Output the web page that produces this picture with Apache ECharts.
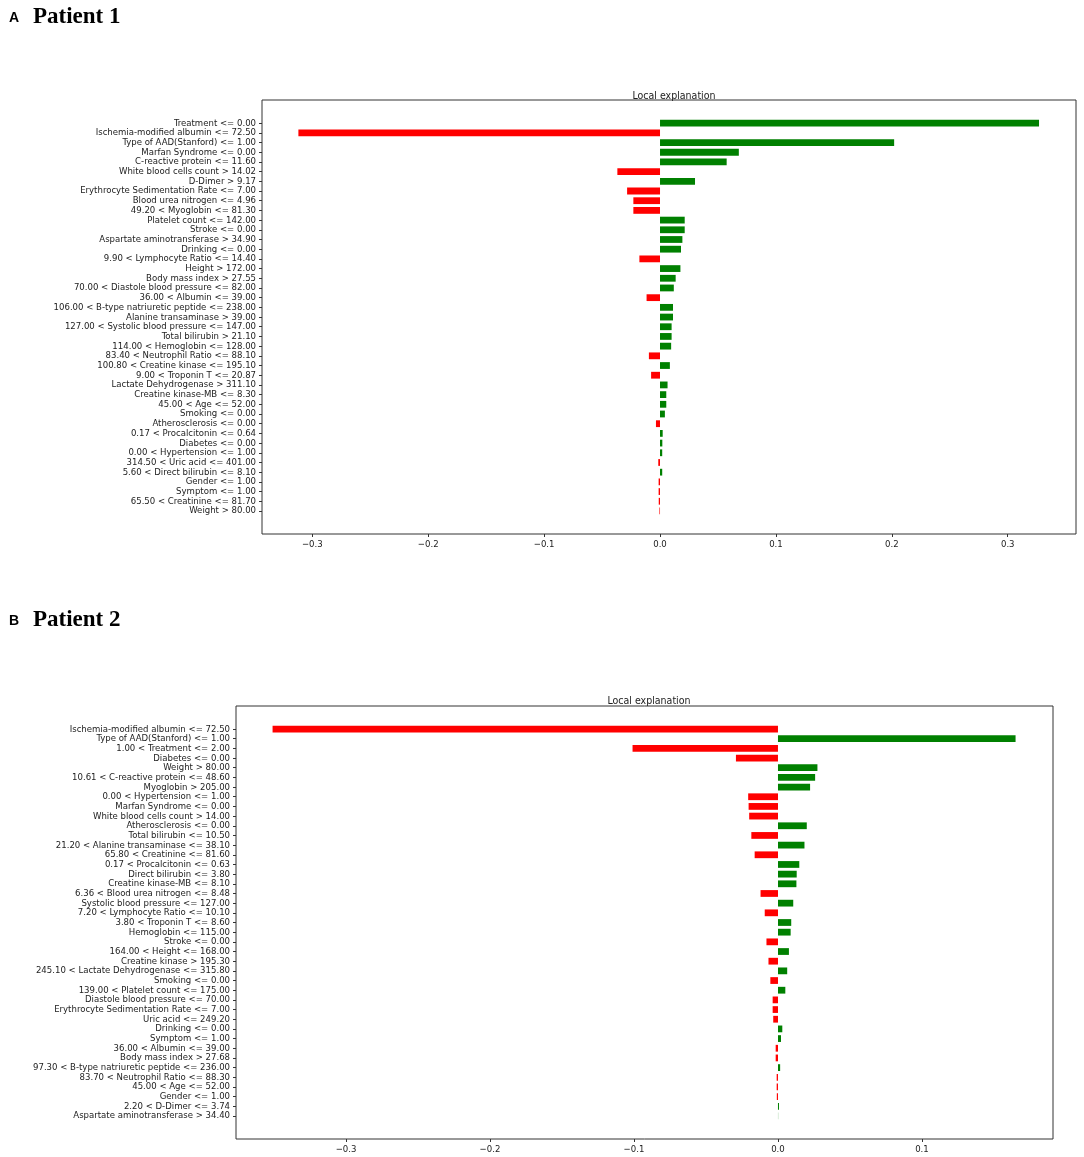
<!DOCTYPE html>
<html>
<head>
<meta charset="utf-8">
<script src="https://cdn.jsdelivr.net/npm/echarts@6/dist/echarts.min.js"></script>
<style>
html, body { margin: 0; padding: 0; background: #fff; }
#chart { width: 1084px; height: 1157px; }
</style>
</head>
<body>
<div id="chart"></div>
<script>
// Patient 1 feature conditions and LIME weights (top to bottom)
const labelsA = [
    'Treatment <= 0.00', 'Ischemia-modified albumin <= 72.50', 'Type of AAD(Stanford) <= 1.00',
    'Marfan Syndrome <= 0.00', 'C-reactive protein <= 11.60', 'White blood cells count > 14.02',
    'D-Dimer > 9.17', 'Erythrocyte Sedimentation Rate <= 7.00', 'Blood urea nitrogen <= 4.96',
    '49.20 < Myoglobin <= 81.30', 'Platelet count <= 142.00', 'Stroke <= 0.00',
    'Aspartate aminotransferase > 34.90', 'Drinking <= 0.00', '9.90 < Lymphocyte Ratio <= 14.40',
    'Height > 172.00', 'Body mass index > 27.55', '70.00 < Diastole blood pressure <= 82.00',
    '36.00 < Albumin <= 39.00', '106.00 < B-type natriuretic peptide <= 238.00', 'Alanine transaminase > 39.00',
    '127.00 < Systolic blood pressure <= 147.00', 'Total bilirubin > 21.10', '114.00 < Hemoglobin <= 128.00',
    '83.40 < Neutrophil Ratio <= 88.10', '100.80 < Creatine kinase <= 195.10', '9.00 < Troponin T <= 20.87',
    'Lactate Dehydrogenase > 311.10', 'Creatine kinase-MB <= 8.30', '45.00 < Age <= 52.00',
    'Smoking <= 0.00', 'Atherosclerosis <= 0.00', '0.17 < Procalcitonin <= 0.64',
    'Diabetes <= 0.00', '0.00 < Hypertension <= 1.00', '314.50 < Uric acid <= 401.00',
    '5.60 < Direct bilirubin <= 8.10', 'Gender <= 1.00', 'Symptom <= 1.00',
    '65.50 < Creatinine <= 81.70', 'Weight > 80.00'
];
const valuesA = [
    0.327, -0.312, 0.202, 0.068, 0.0575, -0.0368, 0.0302, -0.0284, -0.023, -0.023,
    0.0213, 0.0213, 0.0193, 0.0181, -0.0178, 0.0176, 0.0135, 0.0119, -0.0116, 0.0112,
    0.0112, 0.0100, 0.0100, 0.0096, -0.0096, 0.0085, -0.0077, 0.0065, 0.0054, 0.0054,
    0.0042, -0.0035, 0.0023, 0.0020, 0.0019, -0.0015, 0.0019, -0.0012, -0.0012, -0.0011,
    -0.0005
];

// Patient 2
const labelsB = [
    'Ischemia-modified albumin <= 72.50', 'Type of AAD(Stanford) <= 1.00', '1.00 < Treatment <= 2.00',
    'Diabetes <= 0.00', 'Weight > 80.00', '10.61 < C-reactive protein <= 48.60',
    'Myoglobin > 205.00', '0.00 < Hypertension <= 1.00', 'Marfan Syndrome <= 0.00',
    'White blood cells count > 14.00', 'Atherosclerosis <= 0.00', 'Total bilirubin <= 10.50',
    '21.20 < Alanine transaminase <= 38.10', '65.80 < Creatinine <= 81.60', '0.17 < Procalcitonin <= 0.63',
    'Direct bilirubin <= 3.80', 'Creatine kinase-MB <= 8.10', '6.36 < Blood urea nitrogen <= 8.48',
    'Systolic blood pressure <= 127.00', '7.20 < Lymphocyte Ratio <= 10.10', '3.80 < Troponin T <= 8.60',
    'Hemoglobin <= 115.00', 'Stroke <= 0.00', '164.00 < Height <= 168.00',
    'Creatine kinase > 195.30', '245.10 < Lactate Dehydrogenase <= 315.80', 'Smoking <= 0.00',
    '139.00 < Platelet count <= 175.00', 'Diastole blood pressure <= 70.00', 'Erythrocyte Sedimentation Rate <= 7.00',
    'Uric acid <= 249.20', 'Drinking <= 0.00', 'Symptom <= 1.00',
    '36.00 < Albumin <= 39.00', 'Body mass index > 27.68', '97.30 < B-type natriuretic peptide <= 236.00',
    '83.70 < Neutrophil Ratio <= 88.30', '45.00 < Age <= 52.00', 'Gender <= 1.00',
    '2.20 < D-Dimer <= 3.74', 'Aspartate aminotransferase > 34.40'
];
const valuesB = [
    -0.351, 0.165, -0.101, -0.0292, 0.0274, 0.0258, 0.0223, -0.0207, -0.0204, -0.0200,
    0.0200, -0.0185, 0.0184, -0.0162, 0.0148, 0.0130, 0.0128, -0.0121, 0.0106, -0.0092,
    0.0092, 0.0088, -0.0080, 0.0076, -0.0066, 0.0064, -0.0053, 0.0051, -0.0037, -0.0037,
    -0.0033, 0.0030, 0.0021, -0.0016, -0.0016, 0.0015, -0.0009, -0.0009, -0.0008, 0.0007,
    0.0001
];

const ticksA = [-0.3, -0.2, -0.1, 0.0, 0.1, 0.2, 0.3];
const ticksB = [-0.3, -0.2, -0.1, 0.0, 0.1];

const FONT = "'DejaVu Sans Condensed', 'DejaVu Sans', sans-serif";
const fmt = v => (v < 0 ? '\u2212' : '') + Math.abs(v).toFixed(1);
const barColor = p => p.value >= 0 ? '#008000' : '#ff0000';

// one panel = frame grid (border + x ticks) and inner grid (bars + labels)
const panel = (i, frame, inner, range, ticks, labels) => {
    return {
        grids: [
            { left: frame.left, top: frame.top, width: frame.width, height: frame.height,
              show: true, borderColor: '#333', borderWidth: 1, backgroundColor: '#fff' },
            { left: frame.left, top: inner.top, width: frame.width, height: inner.height }
        ],
        xAxes: [
            {
                type: 'value', gridIndex: i * 2, min: range[0], max: range[1],
                axisLine: { show: false },
                axisTick: { show: true, length: 3, customValues: ticks, lineStyle: { color: '#333' } },
                axisLabel: { customValues: ticks, formatter: fmt, fontFamily: FONT, fontSize: 9.5, color: '#222', margin: 6 },
                splitLine: { show: false }
            },
            { type: 'value', gridIndex: i * 2 + 1, min: range[0], max: range[1], show: false }
        ],
        yAxes: [
            { type: 'value', gridIndex: i * 2, show: false },
            {
                type: 'category', gridIndex: i * 2 + 1, data: labels, inverse: true, position: 'left',
                axisLine: { show: false, onZero: false },
                axisTick: { show: true, length: 3, alignWithLabel: true, lineStyle: { color: '#333' } },
                axisLabel: { fontFamily: FONT, fontSize: 9.5, color: '#222', margin: 6, interval: 0 },
                splitLine: { show: false }
            }
        ]
    };
};

const pA = panel(0, { left: 262, top: 100, width: 814, height: 434 }, { top: 118.3, height: 397.5 },
    [-0.3434, 0.3589], ticksA, labelsA);
const pB = panel(1, { left: 236, top: 706, width: 817, height: 433 }, { top: 724.2, height: 396.6 },
    [-0.3764, 0.191], ticksB, labelsB);

const myChart = echarts.init(document.getElementById('chart'));
const option = {
    animation: false,
    backgroundColor: '#fff',
    title: [
        { text: 'A', left: 4, top: 6, textStyle: { fontFamily: 'Liberation Sans', fontWeight: 'bold', fontSize: 14, color: '#000' } },
        { text: 'Patient 1', left: 28, top: 1, textStyle: { fontFamily: 'Liberation Serif', fontWeight: 'bold', fontSize: 23, color: '#000' } },
        { text: 'B', left: 4, top: 609, textStyle: { fontFamily: 'Liberation Sans', fontWeight: 'bold', fontSize: 14, color: '#000' } },
        { text: 'Patient 2', left: 28, top: 604, textStyle: { fontFamily: 'Liberation Serif', fontWeight: 'bold', fontSize: 23, color: '#000' } },
        { text: 'Local explanation', left: 669, top: 86, textAlign: 'center', textStyle: { fontFamily: FONT, fontWeight: 'normal', fontSize: 10.5, color: '#222' } },
        { text: 'Local explanation', left: 644, top: 691, textAlign: 'center', textStyle: { fontFamily: FONT, fontWeight: 'normal', fontSize: 10.5, color: '#222' } }
    ],
    grid: [...pA.grids, ...pB.grids],
    xAxis: [...pA.xAxes, ...pB.xAxes],
    yAxis: [...pA.yAxes, ...pB.yAxes],
    series: [
        {
            name: 'Patient 1', type: 'bar', xAxisIndex: 1, yAxisIndex: 1,
            data: valuesA, barWidth: '70%',
            itemStyle: { color: barColor }
        },
        {
            name: 'Patient 2', type: 'bar', xAxisIndex: 3, yAxisIndex: 3,
            data: valuesB, barWidth: '70%',
            itemStyle: { color: barColor }
        }
    ]
};
myChart.setOption(option);
</script>
</body>
</html>
